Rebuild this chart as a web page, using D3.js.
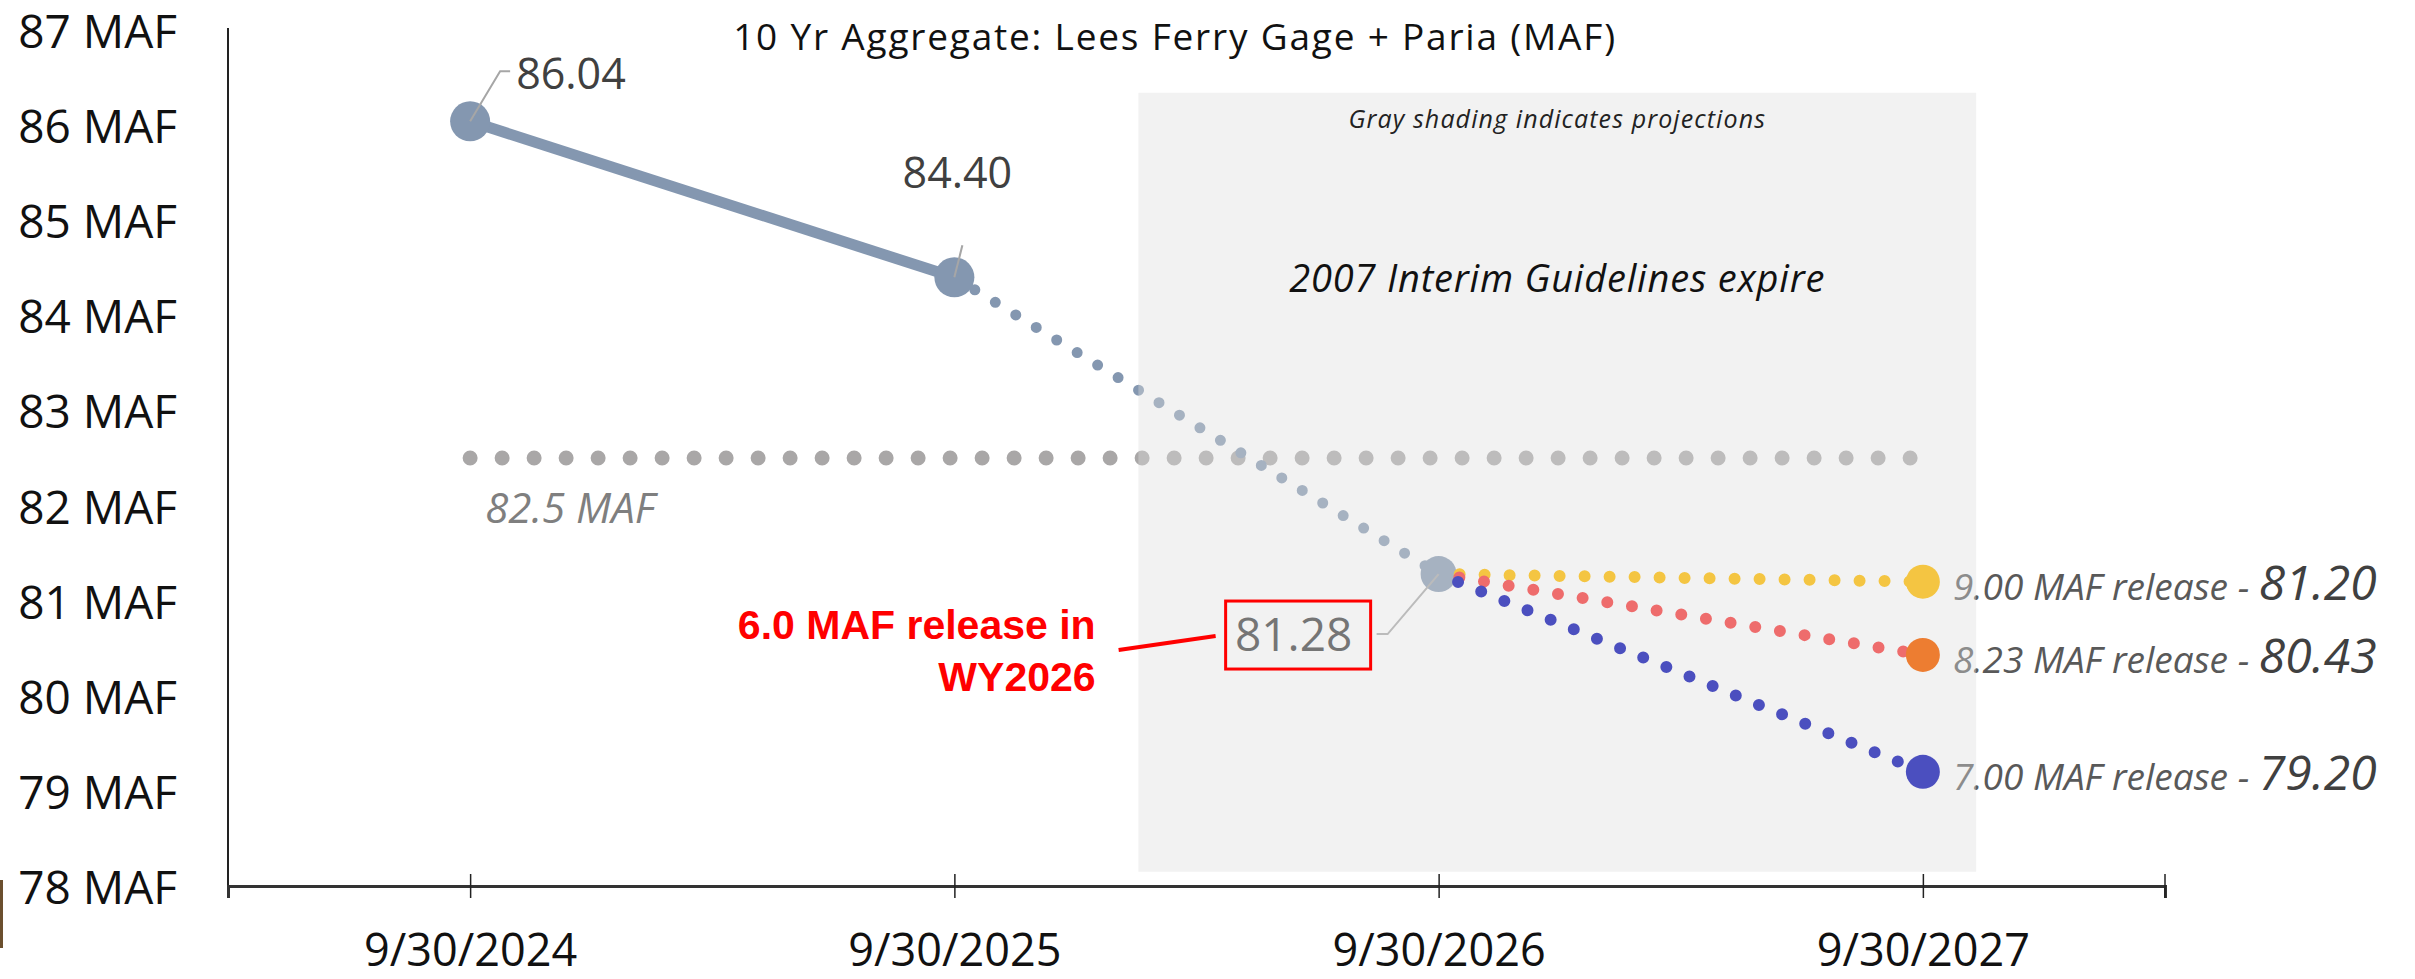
<!DOCTYPE html>
<html>
<head>
<meta charset="utf-8">
<script src="https://cdn.jsdelivr.net/npm/d3@7"></script>
<style>
  body { margin: 0; background: #fff; }
  svg text { font-family: "Open Sans", sans-serif; }
  svg text.note { font-family: "Liberation Sans", Arial, sans-serif; }
</style>
</head>
<body>
<script>
// chart values
const dates = ["9/30/2024", "9/30/2025", "9/30/2026", "9/30/2027"];
const observed = [86.04, 84.40];           // WY2024, WY2025
const projected2026 = [84.40, 81.28];      // 6.0 MAF release in WY2026
const scenarioReleases = ["9.00", "8.23", "7.00"];
const scenarioValues = [81.20, 80.43, 79.20];
const scenarioColors = ["#f4c542", "#ee6c6c", "#4b4fbf"];
const scenarioEndColors = ["#f4c542", "#ed7d31", "#4b4fbf"];
const threshold = 82.5;
const yTicks = [78, 79, 80, 81, 82, 83, 84, 85, 86, 87];

const width = 2415;
const height = 979;

const svg = d3.select("body").append("svg")
    .attr("width", width)
    .attr("height", height);

const x = d3.scalePoint()
    .domain(dates)
    .range([228, 2165])
    .padding(0.5);

const y = d3.scaleLinear()
    .domain([78, 87])
    .range([886, 30]);

const slate = "#8497b0";

// little sliver from the source slide
svg.append("rect").attr("x", 0).attr("y", 880).attr("width", 3).attr("height", 68).attr("fill", "#6b4f2e");

// y axis
const yAxis = svg.append("g")
    .attr("transform", "translate(228,0)")
    .call(d3.axisLeft(y).tickValues(yTicks).tickSize(0).tickPadding(51).tickFormat(d => d + " MAF"));
yAxis.select(".domain").attr("stroke", "#222").attr("stroke-width", 2).attr("d", `M0,${y(87) - 2}V${y(78)}`);
yAxis.selectAll("text")
    .attr("dy", "0.38em")
    .attr("font-size", 46)
    .attr("fill", "#111");

// x axis
const xAxis = svg.append("g")
    .attr("transform", `translate(0,${y(78)})`)
    .call(d3.axisBottom(x).tickSizeOuter(0).tickSize(12).tickPadding(36));
xAxis.select(".domain").attr("stroke", "#333").attr("stroke-width", 3);
xAxis.selectAll(".tick line").attr("y1", -12).attr("y2", 12).attr("stroke", "#222").attr("stroke-width", 1.5);
xAxis.append("line")
    .attr("x1", x.range()[1]).attr("x2", x.range()[1])
    .attr("y1", -12).attr("y2", 12)
    .attr("stroke", "#222").attr("stroke-width", 1.5);
xAxis.selectAll("text")
    .attr("font-size", 45)
    .attr("fill", "#111");

// title
svg.append("text")
    .attr("x", 1175).attr("y", 50)
    .attr("text-anchor", "middle")
    .attr("font-size", 37)
    .attr("letter-spacing", 1.8)
    .attr("fill", "#111")
    .text("10 Yr Aggregate: Lees Ferry Gage + Paria (MAF)");

// 82.5 MAF reference line
svg.append("line")
    .attr("x1", x(dates[0])).attr("x2", x(dates[3]))
    .attr("y1", y(threshold)).attr("y2", y(threshold))
    .attr("stroke", "#a9a7a7")
    .attr("stroke-width", 15)
    .attr("stroke-linecap", "round")
    .attr("stroke-dasharray", "0 32");
svg.append("text")
    .attr("x", x(dates[0]) + 15).attr("y", y(threshold) + 65)
    .attr("font-size", 42)
    .attr("font-style", "italic")
    .attr("fill", "#7f7f7f")
    .text(threshold + " MAF");

// observed line
const line = d3.line().x(d => x(d[0])).y(d => y(d[1]));
svg.append("path")
    .attr("d", line(observed.map((v, i) => [dates[i], v])))
    .attr("fill", "none")
    .attr("stroke", slate)
    .attr("stroke-width", 11);

// WY2026 projection (dotted)
svg.append("path")
    .attr("d", line(projected2026.map((v, i) => [dates[i + 1], v])))
    .attr("fill", "none")
    .attr("stroke", slate)
    .attr("stroke-width", 11)
    .attr("stroke-linecap", "round")
    .attr("stroke-dasharray", "0 24")
    .attr("stroke-dashoffset", -24);

// markers
const histPts = [[dates[0], observed[0]], [dates[1], observed[1]], [dates[2], projected2026[1]]];
svg.selectAll(".hist-pt")
    .data(histPts)
    .enter().append("circle")
    .attr("class", "hist-pt")
    .attr("cx", d => x(d[0]))
    .attr("cy", d => y(d[1]))
    .attr("r", (d, i) => i === 2 ? 18 : 20)
    .attr("fill", slate);

// data labels with leader lines
const p0 = [x(dates[0]), y(observed[0])];
const p1 = [x(dates[1]), y(observed[1])];
const p2 = [x(dates[2]), y(projected2026[1])];

svg.append("path")
    .attr("d", `M${p0[0]},${p0[1]}L${p0[0] + 30},${p0[1] - 50}H${p0[0] + 40}`)
    .attr("fill", "none").attr("stroke", "#a6a6a6").attr("stroke-width", 2);
svg.append("text")
    .attr("x", p0[0] + 46).attr("y", p0[1] - 32)
    .attr("font-size", 43).attr("fill", "#404040")
    .text(observed[0].toFixed(2));

svg.append("path")
    .attr("d", `M${p1[0]},${p1[1]}L${p1[0] + 8},${p1[1] - 32}`)
    .attr("fill", "none").attr("stroke", "#a6a6a6").attr("stroke-width", 2);
svg.append("text")
    .attr("x", p1[0] + 3).attr("y", p1[1] - 89)
    .attr("text-anchor", "middle")
    .attr("font-size", 43).attr("fill", "#404040")
    .text(observed[1].toFixed(2));

svg.append("path")
    .attr("d", `M${p2[0]},${p2[1]}L${p2[0] - 51},${p2[1] + 60}H${p2[0] - 62}`)
    .attr("fill", "none").attr("stroke", "#a6a6a6").attr("stroke-width", 2);
svg.append("text")
    .attr("x", p2[0] - 145).attr("y", p2[1] + 77)
    .attr("text-anchor", "middle")
    .attr("font-size", 46).attr("fill", "#333")
    .text(projected2026[1].toFixed(2));

// scenario labels
const labels = svg.selectAll(".scen-label")
    .data(scenarioValues)
    .enter().append("text")
    .attr("class", "scen-label")
    .attr("x", x(dates[3]) + 30)
    .attr("y", d => y(d) + 18)
    .attr("font-style", "italic");
labels.append("tspan")
    .attr("font-size", 37).attr("fill", "#595959")
    .text((d, i) => scenarioReleases[i] + " MAF release - ");
labels.append("tspan")
    .attr("font-size", 48).attr("fill", "#404040")
    .text(d => d.toFixed(2));

// gray shading (projection period), translucent over the layers above
const shadeX0 = x(dates[1]) + x.step() * 0.38;
const shadeX1 = x(dates[3]) + x.step() * 0.11;
svg.append("rect")
    .attr("x", shadeX0).attr("y", y(86.34))
    .attr("width", shadeX1 - shadeX0)
    .attr("height", y(78.15) - y(86.34))
    .attr("fill", "#dedede")
    .attr("fill-opacity", 0.39);

svg.append("text")
    .attr("x", (shadeX0 + shadeX1) / 2).attr("y", 128)
    .attr("text-anchor", "middle")
    .attr("font-size", 25).attr("letter-spacing", 1.1)
    .attr("font-style", "italic").attr("fill", "#222")
    .text("Gray shading indicates projections");
svg.append("text")
    .attr("x", (shadeX0 + shadeX1) / 2).attr("y", 292)
    .attr("text-anchor", "middle")
    .attr("font-size", 38).attr("letter-spacing", 0.8)
    .attr("font-style", "italic").attr("fill", "#111")
    .text("2007 Interim Guidelines expire");

// scenario lines for WY2027
svg.selectAll(".scen-line")
    .data(scenarioValues)
    .enter().append("path")
    .attr("class", "scen-line")
    .attr("d", d => line([[dates[2], projected2026[1]], [dates[3], d]]))
    .attr("fill", "none")
    .attr("stroke", (d, i) => scenarioColors[i])
    .attr("stroke-width", 12)
    .attr("stroke-linecap", "round")
    .attr("stroke-dasharray", "0 25")
    .attr("stroke-dashoffset", 4);

svg.selectAll(".scen-pt")
    .data(scenarioValues)
    .enter().append("circle")
    .attr("class", "scen-pt")
    .attr("cx", x(dates[3]))
    .attr("cy", d => y(d))
    .attr("r", 17)
    .attr("fill", (d, i) => scenarioEndColors[i]);

// red callout
const bx0 = p2[0] - 213, by0 = p2[1] + 27;
svg.append("rect")
    .attr("x", bx0).attr("y", by0)
    .attr("width", 145).attr("height", 68)
    .attr("fill", "none")
    .attr("stroke", "#ff0000")
    .attr("stroke-width", 3);
svg.append("line")
    .attr("x1", bx0 - 107).attr("y1", by0 + 49)
    .attr("x2", bx0 - 10).attr("y2", by0 + 35)
    .attr("stroke", "#ff0000")
    .attr("stroke-width", 4);
const note = svg.append("text")
    .attr("class", "note")
    .attr("text-anchor", "end")
    .attr("font-weight", "bold")
    .attr("font-size", 41)
    .attr("fill", "#ff0000");
note.append("tspan").attr("x", bx0 - 130).attr("y", by0 + 38).text("6.0 MAF release in");
note.append("tspan").attr("x", bx0 - 130).attr("y", by0 + 90).text("WY2026");
</script>
</body>
</html>
